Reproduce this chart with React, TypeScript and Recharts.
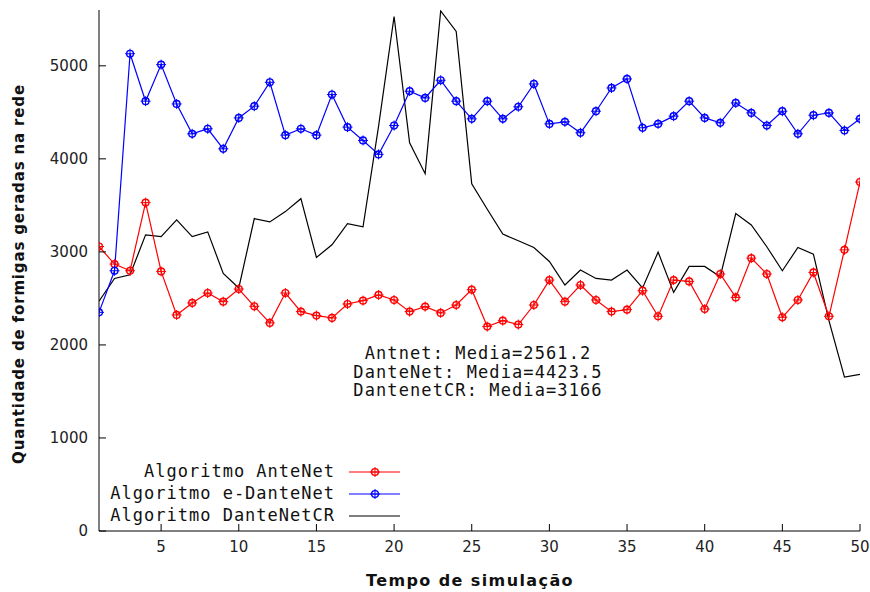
import React from 'react';
import { LineChart, Line, XAxis, YAxis, Customized } from 'recharts';

const steps = [1,2,3,4,5,6,7,8,9,10,11,12,13,14,15,16,17,18,19,20,21,22,23,24,25,26,27,28,29,30,31,32,33,34,35,36,37,38,39,40,41,42,43,44,45,46,47,48,49,50];
const anteNet = [3058,2869,2797,3530,2790,2322,2451,2558,2465,2601,2415,2237,2558,2358,2315,2290,2440,2476,2537,2483,2358,2412,2344,2429,2594,2197,2261,2219,2429,2697,2465,2644,2483,2358,2379,2583,2308,2697,2683,2386,2762,2511,2933,2762,2297,2483,2779,2308,3022,3751];
const eDanteNet = [2350,2797,5130,4620,5013,4590,4269,4323,4108,4440,4566,4823,4255,4323,4255,4691,4341,4198,4048,4358,4727,4655,4845,4620,4430,4620,4430,4560,4805,4376,4398,4280,4512,4762,4859,4334,4376,4459,4620,4440,4387,4601,4494,4358,4512,4269,4469,4494,4305,4430];
const danteNetCR = [2470,2715,2754,3183,3165,3344,3165,3215,2769,2612,3358,3322,3433,3572,2940,3076,3304,3269,4350,5530,4173,3841,5590,5370,3733,3459,3191,3119,3047,2897,2644,2805,2715,2697,2805,2612,2998,2565,2844,2844,2733,3412,3290,3055,2797,3047,2976,2261,1654,1683];
const xTicks = [5,10,15,20,25,30,35,40,45,50];
const yTicks = [0,1000,2000,3000,4000,5000];
const seriesNames = ['Algoritmo AnteNet', 'Algoritmo e-DanteNet', 'Algoritmo DanteNetCR'];
const seriesColors = ['#ff0000', '#0000ff', '#000000'];
const notes = ['Antnet: Media=2561.2', 'DanteNet: Media=4423.5', 'DantenetCR: Media=3166'];

const data = steps.map((s, i) => ({ s, a: anteNet[i], e: eDanteNet[i], c: danteNetCR[i] }));

const MONO = '"DejaVu Sans Mono", "Liberation Mono", monospace';
const SANS = '"DejaVu Sans", Verdana, sans-serif';

const markerShape = (color: string, cx: number, cy: number, key?: any) => (
  <g key={key}>
    <circle cx={cx} cy={cy} r={3.4} fill="none" stroke={color} strokeWidth={1.4} />
    <path d={`M${cx - 5},${cy}h10M${cx},${cy - 5}v10`} stroke={color} strokeWidth={1} />
  </g>
);

const makeDot = (color: string) => (props: any) => {
  const { cx, cy, index } = props;
  if (cx == null || cy == null) return <g key={index} />;
  return markerShape(color, cx, cy, index);
};

const Overlay = () => (
  <g>
    {notes.map((t, i) => (
      <text key={t} x={478} y={359 + i * 18.5} textAnchor="middle" fontFamily={MONO} fontSize={17} letterSpacing={1.1} fill="#111">{t}</text>
    ))}
    {seriesNames.map((n, i) => {
      const y = 472 + i * 22;
      return (
        <g key={n}>
          <text x={335} y={y + 5} textAnchor="end" fontFamily={MONO} fontSize={17} letterSpacing={1.0} fill="#111">{n}</text>
          <line x1={349} x2={400} y1={y} y2={y} stroke={seriesColors[i]} strokeWidth={1.2} />
          {i < 2 ? markerShape(seriesColors[i], 375, y) : null}
        </g>
      );
    })}
    <text x={470} y={586} textAnchor="middle" fontFamily={SANS} fontWeight="bold" fontSize={16} letterSpacing={1.4} fill="#111">Tempo de simulação</text>
    <text x={24} y={274} transform="rotate(-90 24 274)" textAnchor="middle" fontFamily={SANS} fontWeight="bold" fontSize={15} letterSpacing={0.85} fill="#111">Quantidade de formigas geradas na rede</text>
  </g>
);

const hiddenTick = () => <g />;

export default function App() {
  return (
    <div style={{ position: 'absolute', left: 0, top: 0, width: 870, height: 592, background: '#fff' }}>
      <LineChart width={870} height={592} data={data} margin={{ top: 10, right: 10, bottom: 31, left: 0 }}>
        <XAxis xAxisId="b" dataKey="s" type="number" domain={[1, 50]} ticks={xTicks} orientation="bottom" height={30}
          tickSize={-7} tickMargin={17} axisLine={{ stroke: '#000' }} tickLine={{ stroke: '#000' }}
          tick={{ fill: '#222', fontFamily: SANS, fontSize: 15 }} interval={0} allowDataOverflow />
        <XAxis xAxisId="t" dataKey="s" type="number" domain={[1, 50]} ticks={xTicks} orientation="top" height={0}
          tickSize={-7} axisLine={{ stroke: '#000' }} tickLine={{ stroke: '#000' }} tick={hiddenTick} interval={0} allowDataOverflow />
        <YAxis yAxisId="l" type="number" domain={[0, 5600]} ticks={yTicks} orientation="left" width={99}
          tickSize={-7} tickMargin={18} axisLine={{ stroke: '#000' }} tickLine={{ stroke: '#000' }}
          tick={{ fill: '#222', fontFamily: SANS, fontSize: 15 }} interval={0} allowDataOverflow />
        <YAxis yAxisId="r" type="number" domain={[0, 5600]} ticks={yTicks} orientation="right" width={0}
          tickSize={-7} axisLine={{ stroke: '#444', strokeWidth: 1.5 }} tickLine={{ stroke: '#000' }} tick={hiddenTick} interval={0} allowDataOverflow />
        <Line xAxisId="b" yAxisId="l" dataKey="c" stroke="#000" strokeWidth={1.2} dot={false} isAnimationActive={false} type="linear" />
        <Line xAxisId="b" yAxisId="l" dataKey="a" stroke="#ff0000" strokeWidth={1.2} dot={makeDot('#ff0000')} isAnimationActive={false} type="linear" />
        <Line xAxisId="b" yAxisId="l" dataKey="e" stroke="#0000ff" strokeWidth={1.2} dot={makeDot('#0000ff')} isAnimationActive={false} type="linear" />
        <Customized component={Overlay} />
      </LineChart>
    </div>
  );
}
